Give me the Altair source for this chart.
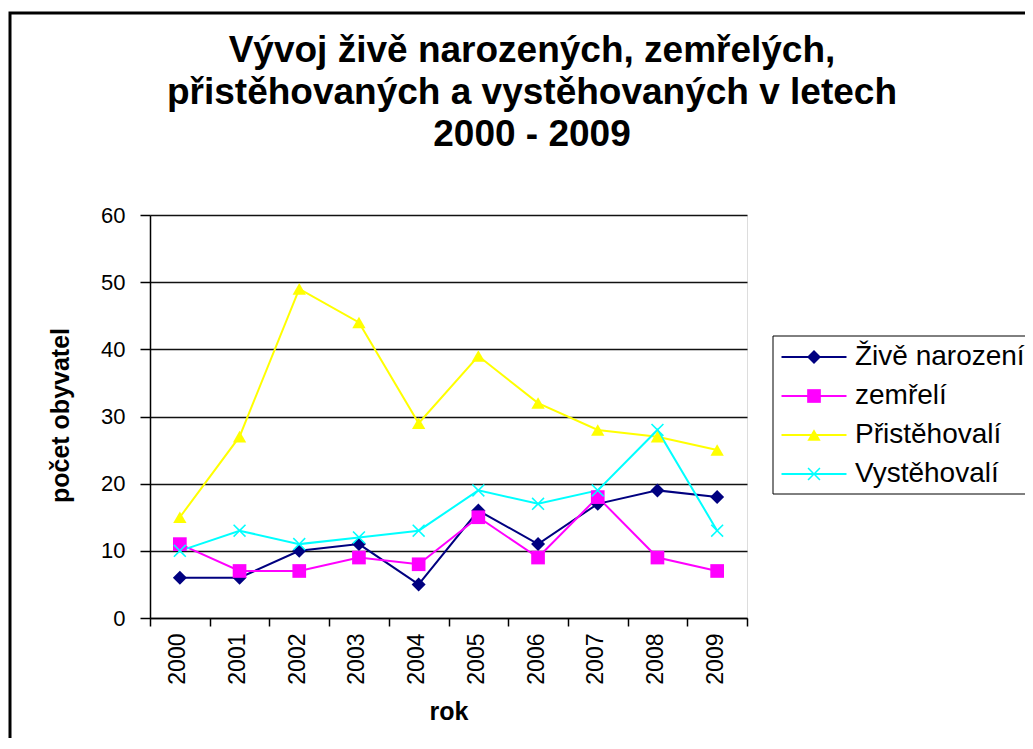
import altair as alt
import pandas as pd

YEARS = ["2000", "2001", "2002", "2003", "2004", "2005", "2006", "2007", "2008", "2009"]
SERIES = ["Živě narození", "zemřelí", "Přistěhovalí", "Vystěhovalí"]
ZIVE = [6, 6, 10, 11, 5, 16, 11, 17, 19, 18]
ZEMRELI = [11, 7, 7, 9, 8, 15, 9, 18, 9, 7]
PRISTEHOVALI = [15, 27, 49, 44, 29, 39, 32, 28, 27, 25]
VYSTEHOVALI = [10, 13, 11, 12, 13, 19, 17, 19, 28, 13]
Y_TICKS = [0, 10, 20, 30, 40, 50, 60]
COLORS = ["#000080", "#FF00FF", "#FFFF00", "#00FFFF"]
# filled "x" outline so it can be drawn as a filled symbol
X_PATH = ("M-1,-0.83L-0.83,-1L0,-0.17L0.83,-1L1,-0.83L0.17,0L1,0.83L0.83,1"
          "L0,0.17L-0.83,1L-1,0.83L-0.17,0Z")
SHAPES = ["diamond", "square", "triangle-up", X_PATH]
SIZES = [196, 169, 225, 289]
TITLE = ["Vývoj živě narozených, zemřelých,",
         "přistěhovaných a vystěhovaných v letech",
         "2000 - 2009"]

rows = []
for name, vals in zip(SERIES, [ZIVE, ZEMRELI, PRISTEHOVALI, VYSTEHOVALI]):
    for yr, v in zip(YEARS, vals):
        rows.append({"rok": yr, "pocet": v, "serie": name, "serie2": name})
df = pd.DataFrame(rows)

FONT = "Liberation Sans"

x_enc = alt.X(
    "rok:O", title="rok", bandPosition=0.5,
    scale=alt.Scale(type="band", paddingInner=0, paddingOuter=0),
    axis=alt.Axis(labelAngle=-90, tickBand="extent", grid=False,
                  domainColor="black", domainWidth=1.5,
                  tickColor="black", tickSize=8, tickWidth=1.5,
                  labelPadding=7, labelFontSize=23, labelFont=FONT, labelColor="black",
                  labelOffset=-2,
                  titleFontSize=25, titleFont=FONT, titleFontWeight="bold",
                  titleColor="black", titlePadding=15),
)
y_enc = alt.Y(
    "pocet:Q", title="počet obyvatel",
    scale=alt.Scale(domain=[0, 60], nice=False),
    axis=alt.Axis(values=Y_TICKS, grid=True, gridColor="#111111", gridWidth=1.5,
                  domainColor="black", domainWidth=1.5,
                  tickColor="black", tickSize=10, tickWidth=1.5,
                  labelPadding=15, labelFontSize=22, labelFont=FONT, labelColor="black",
                  titleFontSize=25, titleFont=FONT, titleFontWeight="bold", titleColor="black",
                  titleX=-90, titleY=200, titleAlign="center", titleBaseline="middle",
                  titleAngle=270),
)

base = alt.Chart(df)

SYM_OFFSET = 20
LEG_FONT = 28
LEG_ROWPAD = 11
LEG_PAD = 7

legend_lines = alt.Legend(title=None, orient="none", legendX=623, legendY=121,
                          padding=LEG_PAD, symbolType="M-5.7,0H5.7", symbolSize=130,
                          symbolStrokeWidth=2, symbolOffset=SYM_OFFSET,
                          labelFontSize=LEG_FONT, labelFont=FONT, labelColor="black",
                          labelOffset=27, labelLimit=400, rowPadding=LEG_ROWPAD, zindex=1)

legend_marks = alt.Legend(title=None, orient="none", legendX=623, legendY=121,
                          padding=LEG_PAD, symbolSize=130, symbolOffset=SYM_OFFSET,
                          symbolStrokeWidth=0, symbolOpacity=1,
                          labelFontSize=LEG_FONT, labelFont=FONT, labelOpacity=0,
                          labelLimit=400, labelOffset=27, rowPadding=LEG_ROWPAD, zindex=2)

lines = base.mark_line(strokeWidth=2).encode(
    x=x_enc, y=y_enc,
    stroke=alt.Stroke("serie2:N", sort=SERIES, scale=alt.Scale(range=COLORS),
                      legend=legend_lines),
)

points = base.mark_point(filled=True, opacity=1).encode(
    x=x_enc, y=y_enc,
    color=alt.Color("serie:N", scale=alt.Scale(domain=SERIES, range=COLORS),
                    legend=legend_marks),
    shape=alt.Shape("serie:N", scale=alt.Scale(domain=SERIES, range=SHAPES),
                    legend=legend_marks),
    size=alt.Size("serie:N", scale=alt.Scale(domain=SERIES, range=SIZES), legend=None),
)

one = alt.Data(values=[{"k": 0}])

frame = alt.Chart(one).mark_rect(
    fillOpacity=0, stroke="black", strokeWidth=3
).encode(
    x=alt.value(-140), x2=alt.value(1400), y=alt.value(-202), y2=alt.value(1200)
)

legend_box = alt.Chart(one).mark_rect(
    fill="white", stroke="black", strokeWidth=1
).encode(
    x=alt.value(623), x2=alt.value(1400), y=alt.value(121), y2=alt.value(279)
)

title = alt.Chart(one).mark_text(
    font=FONT, fontSize=37, fontWeight="bold", align="center", baseline="top",
    lineHeight=42, color="black"
).encode(
    x=alt.value(382), y=alt.value(-182), text=alt.value(TITLE)
)

chart = alt.layer(frame, legend_box, title, lines, points).properties(
    width=597, height=403,
    padding={"left": 142, "top": 207, "right": 278, "bottom": 120},
    autosize=alt.AutoSizeParams(type="none"),
).configure_view(
    fill="#C0C0C0", stroke="#808080", strokeWidth=2
).configure(background="white")

chart.save("out.html", embed_options={"renderer": "svg", "actions": False})
